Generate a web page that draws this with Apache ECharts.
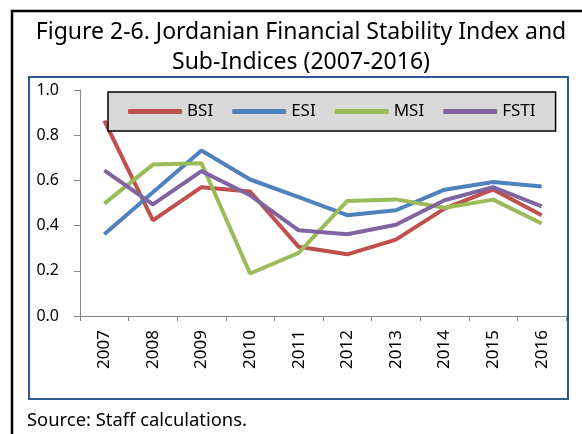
<!DOCTYPE html>
<html>
<head>
<meta charset="utf-8">
<script src="https://cdn.jsdelivr.net/npm/echarts@6/dist/echarts.min.js"></script>
<style>
  html, body { margin: 0; padding: 0; background: #fff; }
  #container { width: 582px; height: 434px; }
</style>
</head>
<body>
<div id="container"></div>
<script>
var years = ['2007', '2008', '2009', '2010', '2011', '2012', '2013', '2014', '2015', '2016'];
var bsi  = [0.865, 0.423, 0.570, 0.551, 0.306, 0.273, 0.338, 0.475, 0.560, 0.446];
var esi  = [0.362, 0.548, 0.732, 0.604, 0.526, 0.446, 0.468, 0.559, 0.593, 0.573];
var msi  = [0.497, 0.670, 0.676, 0.188, 0.279, 0.509, 0.516, 0.479, 0.515, 0.409];
var fsti = [0.644, 0.494, 0.641, 0.534, 0.379, 0.362, 0.404, 0.512, 0.570, 0.485];

var font = 'Noto Sans';
var myChart = echarts.init(document.getElementById('container'));

function line(name, data, color) {
    return {
        name: name,
        type: 'line',
        data: data,
        showSymbol: false,
        symbol: 'none',
        lineStyle: { color: color, width: 4 },
        itemStyle: { color: color },
        animation: false
    };
}

option = {
    backgroundColor: '#fff',
    title: {
        text: 'Figure 2-6. Jordanian Financial Stability Index and\nSub-Indices (2007-2016)',
        left: 296,
        top: 12,
        textAlign: 'center',
        textStyle: { fontFamily: font, fontSize: 23, fontWeight: 'normal', color: '#000', lineHeight: 30 }
    },
    legend: {
        left: 108,
        top: 92,
        padding: [11, 20, 11, 20],
        backgroundColor: '#D9D9D9',
        borderColor: '#000',
        borderWidth: 1.5,
        itemWidth: 54,
        itemHeight: 5,
        itemGap: 19,
        icon: 'roundRect',
        textStyle: { fontFamily: font, fontSize: 17, color: '#000' },
        data: ['BSI', 'ESI', 'MSI', 'FSTI']
    },
    grid: { left: 80, right: 16, top: 90, bottom: 118, containLabel: false },
    xAxis: {
        type: 'category',
        data: years,
        boundaryGap: true,
        axisLine: { lineStyle: { color: '#868686', width: 1 } },
        axisTick: { show: true, length: 5, lineStyle: { color: '#868686' } },
        axisLabel: { rotate: 90, margin: 14, fontFamily: font, fontSize: 17, color: '#000' },
        splitLine: { show: false }
    },
    yAxis: {
        type: 'value',
        min: 0,
        max: 1,
        interval: 0.2,
        axisLine: { show: true, lineStyle: { color: '#868686', width: 1 } },
        axisTick: { show: true, length: 6, lineStyle: { color: '#868686' } },
        axisLabel: {
            margin: 21, fontFamily: font, fontSize: 16, color: '#000',
            formatter: function (v) { return v.toFixed(1); }
        },
        splitLine: { show: false }
    },
    graphic: [
        { type: 'rect', shape: { x: 12, y: 11, width: 620, height: 500 }, style: { fill: null, stroke: '#000', lineWidth: 2.5 }, silent: true },
        { type: 'rect', shape: { x: 29, y: 77, width: 539, height: 322 }, style: { fill: null, stroke: '#2F5A8F', lineWidth: 2 }, silent: true },
        { type: 'text', left: 27, top: 412, style: { text: 'Source: Staff calculations.', fontFamily: font, fontSize: 18.4, fill: '#000' }, silent: true }
    ],
    series: [
        line('BSI', bsi, '#C0504D'),
        line('ESI', esi, '#4F81BD'),
        line('MSI', msi, '#9BBB59'),
        line('FSTI', fsti, '#8064A2')
    ]
};

myChart.setOption(option);
</script>
</body>
</html>
